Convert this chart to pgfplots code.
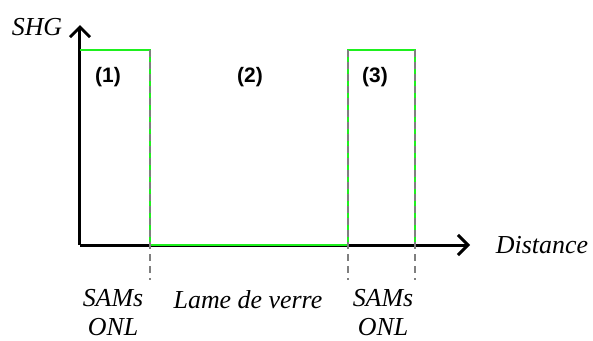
\documentclass[border=0pt]{standalone}
\usepackage{fontspec}
\setmainfont{Liberation Serif}
\newfontfamily\numfont{Liberation Sans}
\usepackage{pgfplots}
\pgfplotsset{compat=1.18}
\usetikzlibrary{arrows.meta}
\definecolor{StepGreen}{HTML}{1EF01E}
\definecolor{DashGray}{HTML}{7F7F7F}
\begin{document}
\begin{tikzpicture}
\begin{axis}[
  width=390bp, height=220bp, scale only axis,
  xmin=0, xmax=390, ymin=0, ymax=220,
  axis x line=bottom, axis y line=left,
  x axis line style={line width=3bp, -{Straight Barb[length=10bp,width=20bp]}},
  y axis line style={line width=3bp, -{Straight Barb[length=10bp,width=20bp]}},
  xtick=\empty, ytick=\empty,
  clip=false,
]
  % step profile of the SHG signal
  \addplot[StepGreen, line width=2.7bp] coordinates {(0,195) (70,195) (70,0) (268,0) (268,195) (335,195) (335,0)};
  % interfaces
  \addplot[DashGray, dash pattern=on 7bp off 5bp, line width=1.1bp] coordinates {(70,195) (70,-35)};
  \addplot[DashGray, dash pattern=on 7bp off 5bp, line width=1.1bp] coordinates {(268,195) (268,-35)};
  \addplot[DashGray, dash pattern=on 7bp off 5bp, line width=1.1bp] coordinates {(335,195) (335,-35)};

  \node[font=\fontsize{26}{30}\selectfont\itshape] at (axis cs:-43,218) {SHG};
  \node[font=\fontsize{26}{30}\selectfont\itshape] at (axis cs:462,0) {Distance};
  \node[font=\fontsize{21}{25}\selectfont\numfont\bfseries] at (axis cs:28,168) {(1)};
  \node[font=\fontsize{21}{25}\selectfont\numfont\bfseries] at (axis cs:170,168) {(2)};
  \node[font=\fontsize{21}{25}\selectfont\numfont\bfseries] at (axis cs:295,168) {(3)};
  \node[font=\fontsize{26}{30}\selectfont\itshape] at (axis cs:33,-53) {SAMs};
  \node[font=\fontsize{26}{30}\selectfont\itshape] at (axis cs:33,-82) {ONL};
  \node[font=\fontsize{26}{30}\selectfont\itshape] at (axis cs:168,-55) {Lame de verre};
  \node[font=\fontsize{26}{30}\selectfont\itshape] at (axis cs:303,-53) {SAMs};
  \node[font=\fontsize{26}{30}\selectfont\itshape] at (axis cs:303,-82) {ONL};
  \path (axis cs:-80,-95) rectangle (axis cs:513,245);
\end{axis}
\end{tikzpicture}
\end{document}
